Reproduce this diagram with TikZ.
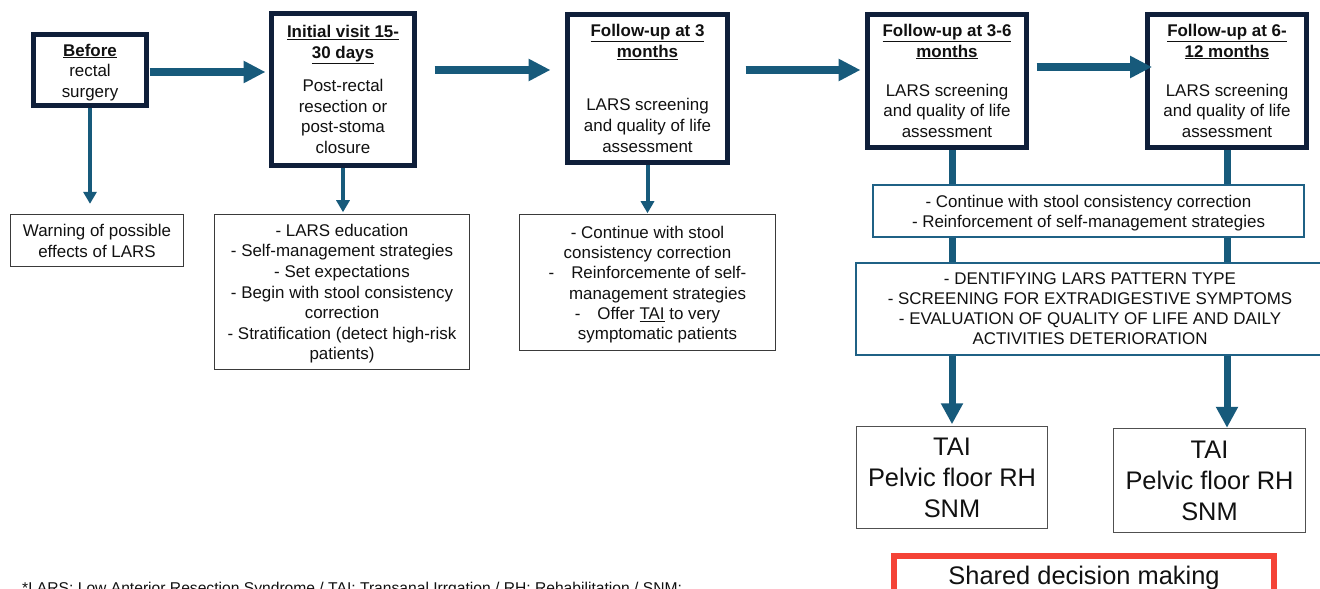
\documentclass[tikz,border=0pt]{standalone}
\usepackage{fontspec}
\setmainfont{Liberation Sans}
\usetikzlibrary{arrows.meta,calc}
\definecolor{navy}{HTML}{0F1F3A}
\definecolor{arrowc}{HTML}{175A7B}
\definecolor{tealbox}{HTML}{1F6185}
\definecolor{boxgray}{HTML}{3A3A3A}
\definecolor{taigray}{HTML}{505050}
\definecolor{redc}{HTML}{F44336}
\definecolor{txt}{HTML}{111111}
\pgfdeclarelayer{back}
\pgfdeclarelayer{bg}
\pgfsetlayers{back,bg,main}
\tikzset{
  hdr/.style={draw=navy, line width=5bp, fill=white, align=center, inner sep=0pt, text=txt, font=\fontsize{17}{21}\selectfont},
  sbox/.style={draw=boxgray, line width=1.3bp, fill=white, align=center, inner sep=0pt, text=txt, font=\fontsize{17}{20.7}\selectfont},
  tbox/.style={draw=tealbox, line width=2.2bp, fill=white, align=center, inner sep=0pt, text=txt, font=\fontsize{17}{20}\selectfont},
  taibox/.style={draw=taigray, line width=1.5bp, fill=white, align=center, inner sep=0pt, text=txt, font=\fontsize{25.5}{31}\selectfont},
  bigarrow/.style={draw=arrowc, line width=8bp, -{Triangle[length=22bp,width=21bp]}},
  thinarrow/.style={draw=arrowc, line width=4bp, -{Triangle[length=12bp,width=13bp]}},
  varrow/.style={draw=arrowc, line width=7bp, -{Triangle[length=21bp,width=21bp]}}
}
\begin{document}
\begin{tikzpicture}[x=1bp,y=-1bp]
\useasboundingbox (0,0) rectangle (1320,589);
\clip (0,0) rectangle (1320,589);
\begin{pgfonlayer}{back}
\fill[white] (0,0) rectangle (1320,589);
\end{pgfonlayer}

% header boxes
\node[hdr, minimum width=113bp, minimum height=71bp] (before) at (90,70)
  {\rule{0pt}{17.4bp}\textbf{\underline{Before}}\\rectal\\surgery};
\node[hdr, minimum width=143bp, minimum height=152bp] (initial) at (343,89.5)
  {\textbf{\underline{Initial visit 15-}}\\\textbf{\underline{30 days}}\\[12bp]Post-rectal\\resection or\\post-stoma\\closure};
\node[hdr, minimum width=160bp, minimum height=148bp] (m3) at (647.5,88.5)
  {\textbf{\underline{Follow-up at 3}}\\\textbf{\underline{months}}\\[32bp]LARS screening\\and quality of life\\assessment};
\node[hdr, minimum width=159bp, minimum height=133bp] (m36) at (947,81)
  {\textbf{\underline{Follow-up at 3-6}}\\\textbf{\underline{months}}\\[18bp]LARS screening\\and quality of life\\assessment};
\node[hdr, minimum width=159bp, minimum height=133bp] (m612) at (1227,81)
  {\textbf{\underline{Follow-up at 6-}}\\\textbf{\underline{12 months}}\\[18bp]LARS screening\\and quality of life\\assessment};

% small boxes
\node[sbox, minimum width=173bp, minimum height=52bp, font=\fontsize{17}{21}\selectfont] (warn) at (97,240.5)
  {Warning of possible\\effects of LARS};
\node[sbox, minimum width=255bp, minimum height=155bp] (edu) at (342,292)
  {\rule{0pt}{15.6bp}- LARS education\\- Self-management strategies\\- Set expectations\\- Begin with stool consistency\\correction\\- Stratification (detect high-risk\\patients)};
\node[sbox, minimum width=256bp, minimum height=136bp, font=\fontsize{17}{20.4}\selectfont] (fu3) at (647.5,282.5)
  {\rule{0pt}{16.5bp}- Continue with stool\\consistency correction\\-\hspace{1em}Reinforcemente of self-\\\hspace*{20bp}management strategies\\-\hspace{1em}Offer \underline{TAI} to very\\\hspace*{20bp}symptomatic patients};

% right column
\node[tbox, minimum width=431bp, minimum height=52bp] (cont) at (1088.5,211)
  {\rule{0pt}{16.5bp}- Continue with stool consistency correction\\- Reinforcement of self-management strategies};
\node[tbox, minimum width=468bp, minimum height=92bp] (ident) at (1090,309)
  {- DENTIFYING LARS PATTERN TYPE\\- SCREENING FOR EXTRADIGESTIVE SYMPTOMS\\- EVALUATION OF QUALITY OF LIFE AND DAILY\\ACTIVITIES DETERIORATION};
\node[taibox, minimum width=191bp, minimum height=102bp] (tai1) at (952,477.5)
  {TAI\\Pelvic floor RH\\SNM};
\node[taibox, minimum width=192bp, minimum height=104bp] (tai2) at (1209.5,480.5)
  {TAI\\Pelvic floor RH\\SNM};

\node[draw=redc, line width=6bp, minimum width=380bp, inner sep=0pt, text height=28bp, text depth=62bp, anchor=north, text=txt, font=\fontsize{25.5}{31}\selectfont] (sdm) at (1084,553)
  {Shared decision making};

\node[anchor=base west, inner sep=0pt, text=txt, font=\fontsize{15.7}{18}\selectfont] (foot) at (22,593)
  {*LARS: Low Anterior Resection Syndrome / TAI: Transanal Irrgation / RH: Rehabilitation / SNM:};

% horizontal arrows
\coordinate (a1s) at ($(before.east)+(0.5,2)$);
\draw[bigarrow] (a1s) -- ($(initial.west |- a1s)+(-3.5,0)$);
\coordinate (a2s) at ($(initial.east |- 0,70)+(17.5,0)$);
\draw[bigarrow] (a2s) -- ($(m3.west |- a2s)+(-14.5,0)$);
\coordinate (a3s) at ($(m3.east |- 0,70)+(15.5,0)$);
\draw[bigarrow] (a3s) -- ($(m36.west |- a3s)+(-4.5,0)$);
\coordinate (a4s) at ($(m36.east |- 0,67)+(7.5,0)$);
\draw[bigarrow] (a4s) -- ($(m612.west |- a4s)+(7,0)$);

% thin vertical arrows
\draw[thinarrow] (before.south) -- ($(warn.north -| before.south)+(0,-10)$);
\draw[thinarrow] (initial.south) -- ($(edu.north -| initial.south)+(0,-1.6)$);
\draw[thinarrow] (m3.south) -- ($(fu3.north -| m3.south)+(0,-0.6)$);

% thick vertical arrows behind boxes
\begin{pgfonlayer}{bg}
\draw[varrow] (tai1.north |- m36.south) -- ($(tai1.north)+(0,-1.5)$);
\draw[varrow] (m612.south) -- (m612.south |- tai2.north);
\end{pgfonlayer}
\end{tikzpicture}
\end{document}
